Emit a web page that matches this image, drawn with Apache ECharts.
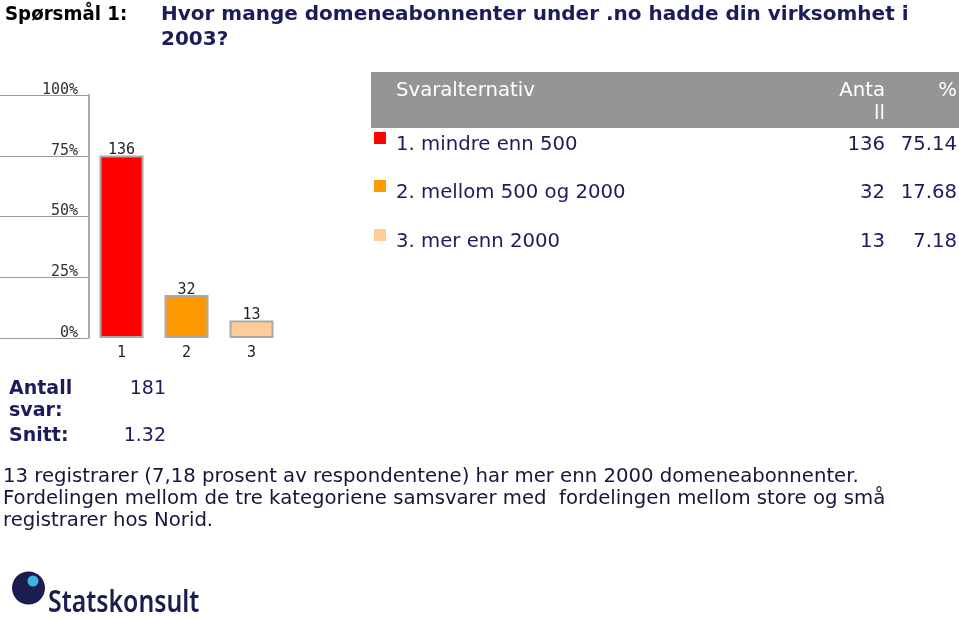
<!DOCTYPE html>
<html><head><meta charset="utf-8">
<script src="https://cdn.jsdelivr.net/npm/echarts/dist/echarts.min.js"></script>
<style>html,body{margin:0;padding:0;background:#fff}#c{width:959px;height:619px}</style>
</head><body><div id="c"></div>
<script>
const categories = ['1', '2', '3'];
const optionLabels = ['1. mindre enn 500', '2. mellom 500 og 2000', '3. mer enn 2000'];
const counts = [136, 32, 13];
const percents = [75.14, 17.68, 7.18];
const barColors = ['#ff0000', '#ff9900', '#ffcc99'];
const totalAnswers = '181';
const meanValue = '1.32';
const questionLabel = 'Spørsmål 1:';
const questionLines = ['Hvor mange domeneabonnenter under .no hadde din virksomhet i', '2003?'];
const bodyLines = [
  '13 registrarer (7,18 prosent av respondentene) har mer enn 2000 domeneabonnenter.',
  'Fordelingen mellom de tre kategoriene samsvarer med  fordelingen mellom store og små',
  'registrarer hos Norid.'
];

const navy = '#1c1c5c';
const sans = 'DejaVu Sans';
const mono = 'DejaVu Sans Mono';

function txt(x, y, text, size, opts) {
  opts = opts || {};
  return {type:'text', x:x, y:y + 1.5, scaleX:opts.scaleX || 1, style:{
    text:text, fontFamily:opts.family || sans, fontSize:size, fontWeight:opts.weight || 'normal',
    fill:opts.fill || navy, align:opts.align || 'left', verticalAlign:'middle'}};
}

const chart = echarts.init(document.getElementById('c'));
const graphics = [];
const fs = 19.7;

// Title
graphics.push(txt(5, 13, questionLabel, 20, {weight:'bold', fill:'#000', scaleX:0.91}));
questionLines.forEach((t,i)=>graphics.push(txt(161, 13+i*25, t, 20, {weight:'bold'})));

// Table header
graphics.push({type:'rect', shape:{x:371, y:72, width:588, height:56}, style:{fill:'#959595'}});
graphics.push(txt(396, 89, 'Svaralternativ', fs, {fill:'#fff'}));
graphics.push(txt(885, 89, 'Anta', fs, {fill:'#fff', align:'right'}));
graphics.push(txt(885, 112, 'll', fs, {fill:'#fff', align:'right'}));
graphics.push(txt(957, 89, '%', fs, {fill:'#fff', align:'right'}));

// Table rows
const rowY = [143, 191, 240];
optionLabels.forEach((lab,i)=>{
  graphics.push({type:'rect', shape:{x:374, y:rowY[i]-11, width:12, height:12}, style:{fill:barColors[i]}});
  graphics.push(txt(396, rowY[i], lab, fs));
  graphics.push(txt(885, rowY[i], String(counts[i]), fs, {align:'right'}));
  graphics.push(txt(957, rowY[i], percents[i].toFixed(2), fs, {align:'right'}));
});

// Summary
[['Antall',388],['svar:',410],['Snitt:',435]].forEach(([t,y])=>graphics.push(txt(9, y, t, 19, {weight:'bold'})));
graphics.push(txt(166, 388, totalAnswers, 19, {align:'right'}));
graphics.push(txt(166, 435, meanValue, 19, {align:'right'}));

// Body text
bodyLines.forEach((t,i)=>graphics.push(txt(3, 475+i*22, t, fs, {fill:'#16163a'})));

// Logo
graphics.push({type:'circle', shape:{cx:28.5, cy:588, r:16.5}, style:{fill:'#1a1d4d'}});
graphics.push({type:'circle', shape:{cx:33, cy:581, r:5.5}, style:{fill:'#3fb3de'}});
graphics.push(txt(48, 602, 'Statskonsult', 31, {family:'Noto Sans', weight:600, fill:'#1a1d4d', scaleX:0.8}));

chart.setOption({
  animation:false,
  backgroundColor:'#fff',
  grid:[
    {left:0, top:95, width:88, height:243, containLabel:false},
    {left:89, top:95, width:195, height:243, containLabel:false}
  ],
  xAxis:[
    {gridIndex:0, type:'value', show:false},
    {gridIndex:1, type:'category', data:categories, axisLine:{show:false}, axisTick:{show:false},
     axisLabel:{fontFamily:mono, fontSize:15, color:'#222', margin:8}}
  ],
  yAxis:[
    {gridIndex:0, type:'value', min:0, max:100, interval:25, position:'right',
     axisLine:{show:false}, axisTick:{show:false},
     splitLine:{show:true, lineStyle:{color:'#9a9a9a', width:1}},
     axisLabel:{inside:true, formatter:'{value}%', verticalAlign:'bottom', lineHeight:10, margin:10,
       fontFamily:mono, fontSize:15, color:'#333'}},
    {gridIndex:1, type:'value', min:0, max:100, interval:25,
     axisLine:{show:true, lineStyle:{color:'#aaaaaa', width:2}}, axisTick:{show:false},
     axisLabel:{show:false}, splitLine:{show:false}}
  ],
  series:[{
    type:'bar', xAxisIndex:1, yAxisIndex:1, barWidth:44,
    data:percents.map((v,i)=>({value:v, itemStyle:{color:barColors[i]}})),
    itemStyle:{borderColor:'#aaaaaa', borderWidth:2},
    label:{show:true, position:'top', distance:1, lineHeight:8, formatter:p=>String(counts[p.dataIndex]),
      fontFamily:mono, fontSize:15, color:'#222'}
  }],
  graphic:graphics
});
</script></body></html>
